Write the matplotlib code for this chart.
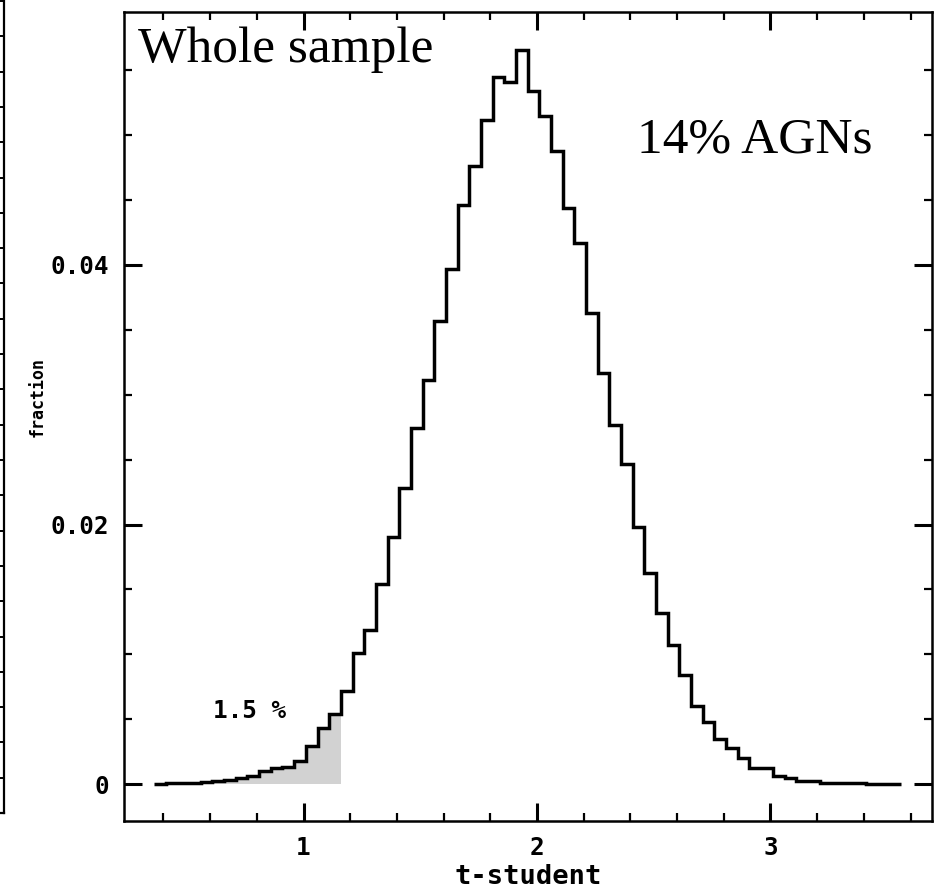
import numpy as np
import matplotlib
matplotlib.use("Agg")
import matplotlib.pyplot as plt
import matplotlib.ticker as tck

# histogram of t-student values, bins of 0.05 starting at 0.36
bin_start = 0.36
bin_width = 0.05
fraction = [
    0.0, 0.00005, 0.00005, 0.0001, 0.00015, 0.0002, 0.0003, 0.0005,
    0.00065, 0.0010, 0.0012, 0.0013, 0.0018, 0.0029, 0.0043, 0.0054,
    0.0072, 0.0101, 0.0119, 0.0154, 0.0190, 0.0228, 0.0274, 0.0311,
    0.0357, 0.0397, 0.0446, 0.0476, 0.0512, 0.0545, 0.0541, 0.0566,
    0.0534, 0.0515, 0.0488, 0.0444, 0.0417, 0.0363, 0.0317, 0.0277,
    0.0247, 0.0198, 0.0163, 0.0132, 0.0107, 0.0084, 0.0060, 0.0048,
    0.0035, 0.0028, 0.0020, 0.0012, 0.0012, 0.0006, 0.0005, 0.00023,
    0.00023, 0.0001, 0.0001, 0.00004, 0.00004, 0.0, 0.0, 0.0,
]
n_shaded = 16  # bins below t = 1.16

x_ticks = [1, 2, 3]
y_ticks = [0, 0.02, 0.04]
y_tick_labels = ["0", "0.02", "0.04"]

title_text = "Whole sample"
agn_text = "14% AGNs"
tail_text = "1.5 %"

W, H = 935, 893
mono = "DejaVu Sans Mono"
serif = "Liberation Serif"


def main():
    values = np.array(fraction)
    edges = bin_start + bin_width * np.arange(len(values) + 1)

    fig = plt.figure(figsize=(W / 100, H / 100), dpi=100)

    # bit of the neighbouring panel on the far left
    ax0 = fig.add_axes([-1.0, 1 - 813 / H, 1.0 + 4 / W, 833 / H])
    ax0.set_xlim(0, 1)
    ax0.set_ylim(0, 833 / 35.3)
    for s in ["top", "left"]:
        ax0.spines[s].set_visible(False)
    for s in ["right", "bottom"]:
        ax0.spines[s].set_linewidth(1.6)
    ax0.yaxis.set_major_locator(tck.MultipleLocator(1))
    ax0.tick_params(axis="y", left=False, right=True, labelleft=False,
                    direction="in", length=3.5, width=1.4)
    ax0.tick_params(axis="x", bottom=False, labelbottom=False)

    ax = fig.add_axes([124 / W, 1 - 821 / H, 808 / W, 809 / H])
    ax.stairs(values[:n_shaded], edges[:n_shaded + 1], fill=True,
              color="#d2d2d2", lw=0)
    ax.stairs(values, edges, baseline=None, color="black", lw=2.5)

    ax.set_xlim(1 + (124 - 303.5) / 233.5, 1 + (932 - 303.5) / 233.5)
    ax.set_ylim((784 - 821) / 12975, (784 - 12) / 12975)

    ax.set_xticks(x_ticks)
    ax.set_xticklabels([str(t) for t in x_ticks])
    ax.set_yticks(y_ticks)
    ax.set_yticklabels(y_tick_labels)
    ax.xaxis.set_minor_locator(tck.MultipleLocator(0.2))
    ax.yaxis.set_minor_locator(tck.MultipleLocator(0.005))

    for s in ax.spines.values():
        s.set_linewidth(1.8)
    ax.tick_params(which="both", direction="in", top=True, right=True)
    ax.tick_params(which="major", length=13, width=2.2)
    ax.tick_params(which="minor", length=6, width=1.6)
    ax.tick_params(axis="x", pad=11)
    ax.tick_params(axis="y", pad=11)
    for lab in ax.get_xticklabels() + ax.get_yticklabels():
        lab.set_family(mono)
        lab.set_fontweight("bold")
        lab.set_fontsize(17.5)

    ax.text(1 + (138 - 303.5) / 233.5, (784 - 62) / 12975, title_text,
            family=serif, fontsize=37, va="baseline", ha="left")
    ax.text(1 + (637 - 303.5) / 233.5, (784 - 153) / 12975, agn_text,
            family=serif, fontsize=37, va="baseline", ha="left")
    ax.text(1 + (213 - 303.5) / 233.5, (784 - 711) / 12975, tail_text,
            family=mono, fontweight="bold", fontsize=17.5,
            va="center", ha="left")

    fig.text(528 / W, 1 - 877 / H, "t-student", family=mono,
             fontweight="bold", fontsize=19.5, ha="center", va="center")
    fig.text(38 / W, 1 - 397 / H, "fraction", family=mono,
             fontweight="bold", fontsize=12, ha="center", va="center",
             rotation=90)

    fig.savefig("out.png", dpi=100)


if __name__ == "__main__":
    main()
